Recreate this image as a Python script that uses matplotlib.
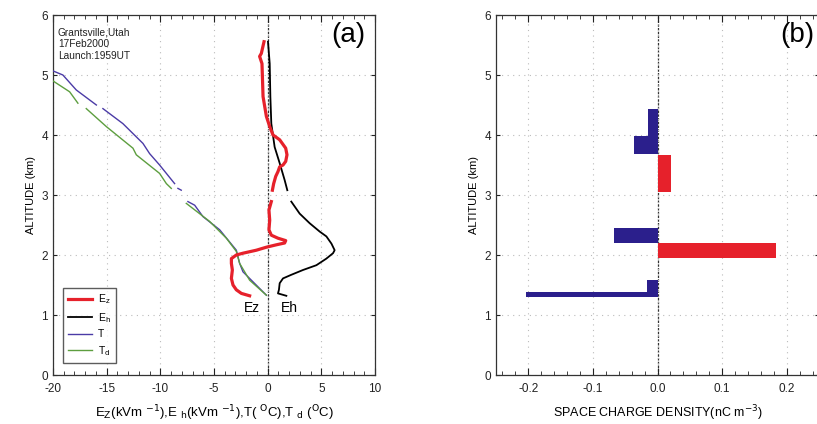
import numpy as np
import matplotlib
matplotlib.use("Agg")
import matplotlib.pyplot as plt
from matplotlib.ticker import MultipleLocator, FormatStrFormatter

nan = np.nan

# ---- Panel (a) data: (value, altitude km); NaN = gap in trace ----
ez_x = [-0.34, -0.59, -0.75, -0.53, -0.5, -0.43, -0.12, 0.19, 0.5, 1.12, 1.68, 1.8, 1.68, 1.43,
        1.12, 0.96, 0.75, 0.56, 0.44, nan, 0.34, 0.12, 0.19, 0.12, 0.34, 0.96, 1.68, 1.58, 0.81,
        -0.12, -1.05, -2.3, -2.92, -3.38, -3.38, -3.29, -3.38, -3.23, -2.92, -2.45, -1.68]
ez_y = [5.555, 5.36, 5.31, 5.19, 5.03, 4.64, 4.31, 4.14, 4.0, 3.92, 3.78, 3.67, 3.56, 3.5,
        3.47, 3.39, 3.31, 3.19, 3.08, nan, 2.89, 2.75, 2.58, 2.42, 2.33, 2.28, 2.24, 2.2, 2.17,
        2.13, 2.08, 2.03, 2.0, 1.94, 1.86, 1.75, 1.61, 1.5, 1.42, 1.36, 1.32]

eh_x = [0.03, 0.19, 0.25, 0.34, 0.65, 1.12, 1.58, 1.83, nan, 2.2, 2.98, 3.91, 4.85, 5.47,
        5.94, 6.24, 6.09, 5.47, 4.54, 3.29, 2.2, 1.43, 1.12, 1.05, 0.96, 1.74]
eh_y = [5.555, 5.19, 4.64, 4.19, 3.8, 3.53, 3.25, 3.08, nan, 2.89, 2.69, 2.53, 2.39, 2.31,
        2.19, 2.08, 2.03, 1.94, 1.83, 1.75, 1.67, 1.61, 1.53, 1.42, 1.36, 1.32]

t_x = [-20.16, -19.08, -17.83, -15.96, nan, -15.35, -13.49, -11.62, -11.0, -10.07, -8.67, nan,
       -8.36, -8.05, nan, -7.43, -6.8, -6.03, -4.47, -2.92, -2.61, -2.3, -0.12]
t_y = [5.08, 5.0, 4.75, 4.5, nan, 4.44, 4.19, 3.86, 3.69, 3.5, 3.19, nan,
       3.11, 3.08, nan, 2.89, 2.83, 2.64, 2.42, 2.08, 1.86, 1.72, 1.33]

td_x = [-20.16, -18.45, -17.68, nan, -16.9, -15.03, -12.55, -12.24, -10.07, -9.44, -8.98, nan,
        -7.58, -5.41, -3.85, -2.92, -2.61, -1.68, -0.12]
td_y = [4.92, 4.72, 4.53, nan, 4.44, 4.14, 3.78, 3.67, 3.36, 3.19, 3.11, nan,
        2.86, 2.56, 2.28, 2.06, 1.86, 1.58, 1.33]

# ---- Panel (b) data: space charge layers ----
rho_bottom = [3.98, 3.68, 3.05, 2.20, 1.955, 1.30, 1.30]
rho_top = [4.43, 3.98, 3.67, 2.45, 2.205, 1.58, 1.38]
rho_value = [-0.015, -0.036, 0.021, -0.067, 0.184, -0.017, -0.204]

RED = "#e6212b"
BLUE = "#2b1f8c"
TBLUE = "#4b3ba6"
GREEN = "#5d9e3f"

plt.rcParams['font.family'] = ['Liberation Sans', 'DejaVu Sans']
plt.rcParams['axes.unicode_minus'] = False

fig = plt.figure(figsize=(8.17, 4.24), dpi=100)
axa = fig.add_axes([53/817, 49/424, 322/817, 360/424])
axb = fig.add_axes([496/817, 49/424, 323/817, 360/424])

def style(ax):
    ax.tick_params(axis='both', which='both', direction='in', top=True, right=True,
                   labelsize=8.5, colors='#222222')
    ax.tick_params(axis='x', which='major', length=5, pad=6)
    ax.tick_params(axis='x', which='minor', length=3)
    ax.tick_params(axis='y', which='major', length=3)
    ax.yaxis.set_major_locator(MultipleLocator(1))
    ax.set_ylim(0, 6)
    ax.grid(True, which='major', linestyle=(0, (1, 4)), color='#bbbbbb', linewidth=0.8)
    for s in ax.spines.values():
        s.set_color('#333333')
        s.set_linewidth(0.9)
    ax.axvline(0, color='#333333', linestyle=(0, (2, 1)), linewidth=0.9, zorder=1)
    ax.set_ylabel('ALTITUDE (km)', fontsize=8)

# Panel (a)
style(axa)
axa.set_xlim(-20, 10)
axa.xaxis.set_major_locator(MultipleLocator(5))
axa.xaxis.set_minor_locator(MultipleLocator(1))
axa.plot(t_x, t_y, color=TBLUE, lw=1.0, label='T', zorder=3)
axa.plot(td_x, td_y, color=GREEN, lw=1.0, label='T$_{\\rm d}$', zorder=3)
axa.plot(eh_x, eh_y, color='black', lw=1.3, label='E$_{\\rm h}$', zorder=4)
axa.plot(ez_x, ez_y, color=RED, lw=2.3, label='E$_{\\rm z}$', zorder=5)
h, l = axa.get_legend_handles_labels()
order = [3, 2, 0, 1]
axa.legend([h[i] for i in order], [l[i] for i in order], loc='lower left',
           bbox_to_anchor=(0.015, 0.02), fontsize=7.5, frameon=True, fancybox=False,
           edgecolor='#333333', handlelength=2.3, handletextpad=0.6, borderpad=0.45,
           labelspacing=0.45)
axa.text(-1.5, 1.12, 'Ez', fontsize=10, ha='center', va='center')
axa.text(2.05, 1.12, 'Eh', fontsize=10, ha='center', va='center')
axa.text(0.97, 0.945, '(a)', transform=axa.transAxes, fontsize=20, ha='right', va='center')
axa.text(0.015, 0.965, 'Grantsville,Utah\n17Feb2000\nLaunch:1959UT', transform=axa.transAxes,
         fontsize=7.3, ha='left', va='top', linespacing=1.2, color='#222222')
axa.set_xlabel('E$_{\\rm Z}$(kVm $^{-1}$),E $_{\\rm h}$(kVm $^{-1}$),T( $^{\\rm O}$C),T $_{\\rm d}$ ($^{\\rm O}$C)',
               fontsize=9.5, labelpad=6)

# Panel (b)
style(axb)
axb.set_xlim(-0.25, 0.25)
axb.xaxis.set_major_locator(MultipleLocator(0.1))
axb.xaxis.set_minor_locator(MultipleLocator(0.02))
axb.xaxis.set_major_formatter(FormatStrFormatter('%.1f'))
for b, t, v in zip(rho_bottom, rho_top, rho_value):
    axb.barh(b, v, height=t - b, align='edge', color=RED if v > 0 else BLUE,
             edgecolor='none', zorder=3)
axb.text(0.985, 0.945, '(b)', transform=axb.transAxes, fontsize=20, ha='right', va='center')
axb.set_xlabel('SPACE CHARGE DENSITY(nC m$^{-3}$)', fontsize=9, labelpad=6)

fig.savefig('out.png', dpi=100)
